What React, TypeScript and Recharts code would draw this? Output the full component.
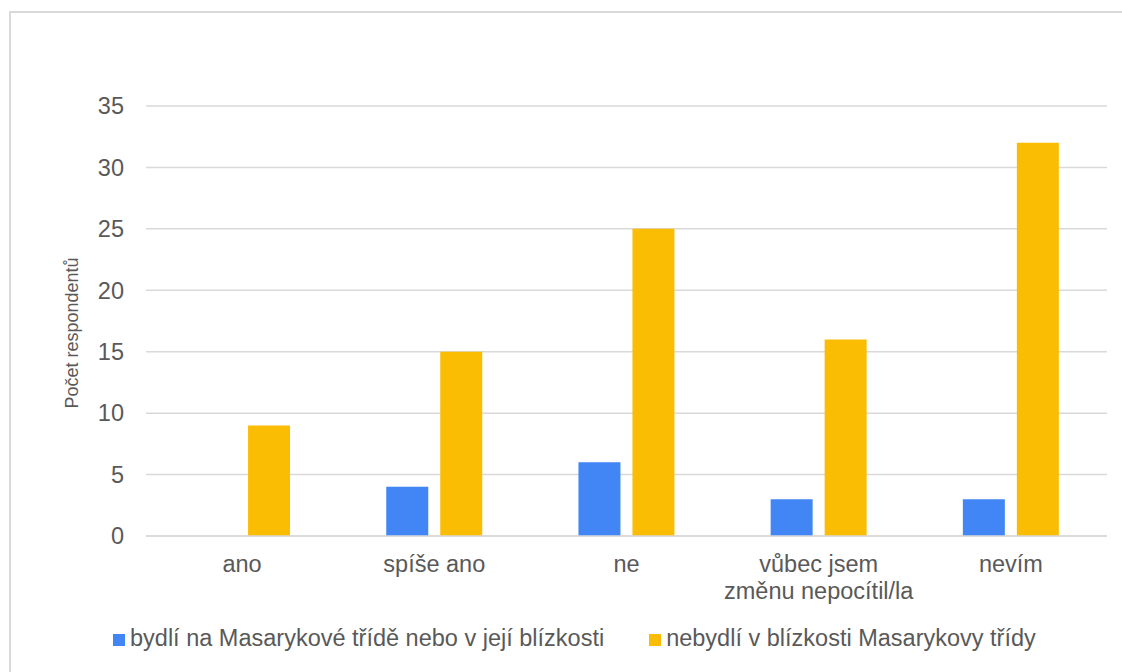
import React from 'react';
import {
  Bar, BarChart, CartesianGrid, Label, Legend, XAxis, YAxis,
} from 'recharts';

const categories = ['ano', 'spíše ano', 'ne', 'vůbec jsem\nzměnu nepocítil/la', 'nevím'];
const nearValues = [0, 4, 6, 3, 3];
const farValues = [9, 15, 25, 16, 32];
const yTicks = [0, 5, 10, 15, 20, 25, 30, 35];

const seriesNames = {
  near: 'bydlí na Masarykové třídě nebo v její blízkosti',
  far: 'nebydlí v blízkosti Masarykovy třídy',
};
const colors = { near: '#4285F4', far: '#FBBC04' };

const data = categories.map((name, i) => ({
  name,
  near: nearValues[i],
  far: farValues[i],
}));

const FONT = '"Liberation Sans", Arial, sans-serif';
const TEXT = '#595959';
const GRID = '#d9d9d9';

const CategoryTick = (props: any) => {
  const { x, y, payload } = props;
  const lines = String(payload.value).split('\n');
  return (
    <text x={x} y={y} textAnchor="middle" fill={TEXT} fontSize={23.5} fontFamily={FONT}>
      {lines.map((line, i) => (
        <tspan key={i} x={x} dy={i === 0 ? 36 : 27}>{line}</tspan>
      ))}
    </text>
  );
};

const YTitle = (props: any) => {
  const { viewBox } = props;
  const x = viewBox.x + 78;
  const y = viewBox.y + viewBox.height / 2 + 12;
  return (
    <text
      x={x}
      y={y}
      transform={`rotate(-90, ${x}, ${y})`}
      textAnchor="middle"
      fill={TEXT}
      fontSize={18}
      fontFamily={FONT}
    >
      Počet respondentů
    </text>
  );
};

const renderLegend = () => (
  <div style={{
    display: 'flex', gap: 45, paddingLeft: 113, fontFamily: FONT, fontSize: 23.5, color: TEXT, lineHeight: '24px',
  }}
  >
    {(['near', 'far'] as const).map((k) => (
      <div key={k} style={{ display: 'flex', alignItems: 'flex-end' }}>
        <span style={{
          display: 'inline-block', width: 12, height: 12, background: colors[k], marginRight: 5, marginBottom: 4,
        }}
        />
        <span>{seriesNames[k]}</span>
      </div>
    ))}
  </div>
);

const App = () => (
  <div style={{
    position: 'absolute', left: 0, top: 0, width: 1122, height: 672, overflow: 'hidden', background: '#fff',
  }}
  >
    <div style={{
      position: 'absolute', left: 9, top: 11, width: 1200, height: 800, border: `2px solid ${GRID}`,
    }}
    />
    <BarChart
      width={1122}
      height={672}
      data={data}
      margin={{ top: 106, right: 15, left: 0, bottom: 76 }}
      barCategoryGap="25%"
      barGap={12}
    >
      <CartesianGrid vertical={false} stroke={GRID} strokeWidth={1.5} />
      <XAxis
        dataKey="name"
        height={60}
        tick={<CategoryTick />}
        tickLine={false}
        tickSize={0}
        tickMargin={0}
        axisLine={{ stroke: GRID, strokeWidth: 1.5 }}
        interval={0}
      />
      <YAxis
        width={146}
        domain={[0, 35]}
        ticks={yTicks}
        axisLine={false}
        tickLine={false}
        tickSize={0}
        tickMargin={22}
        tick={{ fill: TEXT, fontSize: 23.5, fontFamily: FONT }}
      >
        <Label content={<YTitle />} />
      </YAxis>
      <Legend
        verticalAlign="middle"
        layout="horizontal"
        content={renderLegend}
        wrapperStyle={{ top: 626, left: 0, width: 1122 }}
      />
      <Bar dataKey="near" name={seriesNames.near} fill={colors.near} isAnimationActive={false} />
      <Bar dataKey="far" name={seriesNames.far} fill={colors.far} isAnimationActive={false} />
    </BarChart>
  </div>
);

export default App;
